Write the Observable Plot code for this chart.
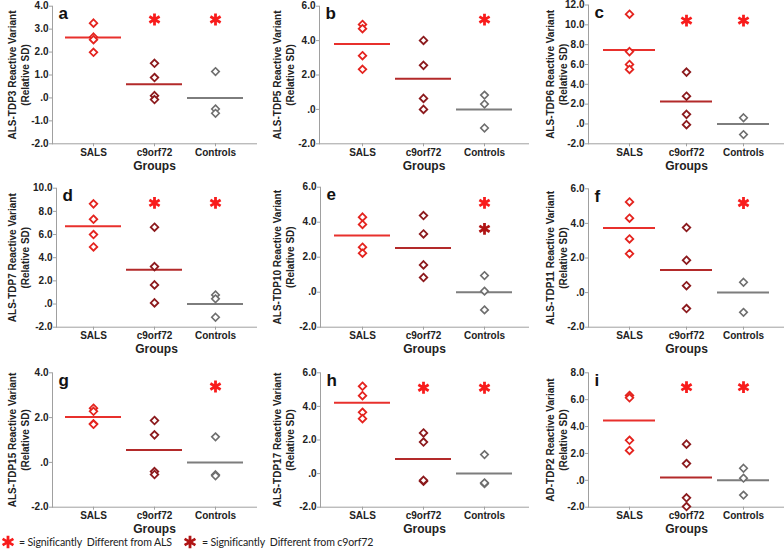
<!DOCTYPE html>
<html><head><meta charset="utf-8">
<script src="https://cdn.jsdelivr.net/npm/d3@7"></script>
<script src="https://cdn.jsdelivr.net/npm/@observablehq/plot@0.6"></script>
<style>
body{margin:0;background:#fff;}
#root{position:relative;width:784px;height:558px;overflow:hidden;font-family:"Liberation Sans",Arial,sans-serif;}
.panel{position:absolute;}
.leg{position:absolute;top:533px;height:18px;line-height:18px;font-family:Lato,"Open Sans",sans-serif;font-size:10.6px;letter-spacing:-0.15px;color:#222;white-space:pre;}
.legsym{position:absolute;top:534px;}
</style></head><body><div id="root"></div>
<script>
// ---------- data ----------
const groups = ["SALS", "c9orf72", "Controls"];
const letters = ["a", "b", "c", "d", "e", "f", "g", "h", "i"];
const yLabels = [
  "ALS-TDP3 Reactive Variant", "ALS-TDP5 Reactive Variant", "ALS-TDP6 Reactive Variant",
  "ALS-TDP7 Reactive Variant", "ALS-TDP10 Reactive Variant", "ALS-TDP11 Reactive Variant",
  "ALS-TDP15 Reactive Variant", "ALS-TDP17 Reactive Variant", "AD-TDP2 Reactive Variant"
];
const yLabelSub = "(Relative SD)";
const xLabel = "Groups";
const yMax = [4, 6, 12, 10, 6, 6, 4, 6, 8];
const yTickStep = [1, 2, 2, 2, 2, 2, 2, 2, 2];

const salsValues = [
  [3.26, 2.65, 2.54, 1.99],
  [4.94, 4.69, 3.12, 2.33],
  [11.07, 7.3, 6.0, 5.5],
  [8.65, 7.32, 6.0, 4.93],
  [4.29, 3.87, 2.57, 2.23],
  [5.24, 4.30, 3.10, 2.25],
  [2.42, 2.28, 1.72, 1.70],
  [5.2, 4.64, 3.65, 3.27],
  [6.31, 6.14, 2.98, 2.22]
];
const c9Values = [
  [1.51, 0.89, 0.10, -0.07],
  [4.01, 2.56, 0.64, 0.0],
  [5.23, 2.8, 0.97, -0.07],
  [6.63, 3.23, 1.65, 0.1],
  [4.38, 3.33, 1.56, 0.84],
  [3.76, 1.87, 0.40, -0.92],
  [1.87, 1.23, -0.41, -0.54],
  [2.42, 1.88, -0.46, -0.40],
  [2.69, 1.25, -1.3, -1.95]
];
const ctrlValues = [
  [1.15, -0.48, -0.67],
  [0.83, 0.31, -1.08],
  [0.63, -1.07],
  [0.79, 0.45, -1.14],
  [0.95, 0.06, -1.01],
  [0.60, -1.14],
  [1.14, -0.55, -0.60],
  [1.13, -0.60, -0.55],
  [0.90, 0.16, -1.10]
];
const salsMeans = [2.63, 3.80, 7.47, 6.71, 3.24, 3.74, 2.03, 4.21, 4.45];
const c9Means = [0.60, 1.78, 2.27, 2.95, 2.53, 1.31, 0.55, 0.87, 0.21];
const ctrlMeans = [0, 0, 0, 0, 0, 0, 0, 0, 0];

// asterisks: significantly different from ALS (red) / from c9orf72 (dark red)
const alsStarGroups = [["c9orf72", "Controls"], ["Controls"], ["c9orf72", "Controls"],
  ["c9orf72", "Controls"], ["Controls"], ["Controls"], ["Controls"],
  ["c9orf72", "Controls"], ["c9orf72", "Controls"]];
const alsStarY = [3.42, 5.22, 10.43, 8.73, 5.10, 5.18, 3.39, 5.11, 6.93];
const c9StarGroups = [[], [], [], [], ["Controls"], [], [], [], []];
const c9StarY = [null, null, null, null, 3.62, null, null, null, null];

const legendTexts = ["= Significantly  Different from ALS", "= Significantly  Different from c9orf72"];

// ---------- layout ----------
const colLeft = [0, 260, 520];
const colWidth = [260, 268, 264];
const colRight = [256, 528, 784];
const colCenters = [[93, 155, 216], [362, 423, 485], [628, 687, 744]];
const colLabelX = [18, 283, 556];
const axisXs = [52, 319, 588, 56, 320, 588, 52, 320, 588];
const rowTop = [-10, 160, 330];
const rowHeight = [190, 200, 210];
const rowBottomPx = [143.3, 326.7, 506.7];
const topPx = [5.7, 5.7, 4.5, 187.7, 186.7, 188.3, 372.3, 372.3, 372.3];

const colSALS = "#e4241f", colC9 = "#8c1a1d", colCtrl = "#6e6e6e";
const meanSALS = "#e8302c", meanC9 = "#b32a2a", meanCtrl = "#7d7d7d";
const starRed = "#f81c1c", starDark = "#b01515";
const axisGray = "#a0a0a0";
const fmt = d => d === 0 ? ".0" : d.toFixed(1);

const root = document.getElementById("root");

for (let i = 0; i < 9; i++) {
  const col = i % 3, row = Math.floor(i / 3);
  const left = colLeft[col], width = colWidth[col];
  const top = rowTop[row], height = rowHeight[row];
  const axisX = axisXs[i];
  const c = colCenters[col];
  const step = (c[2] - c[0]) / 2;
  const pi = 0.08;
  const bw = step * (1 - pi);

  const pts = [
    ...salsValues[i].map(v => ({group: "SALS", value: v})),
    ...c9Values[i].map(v => ({group: "c9orf72", value: v})),
    ...ctrlValues[i].map(v => ({group: "Controls", value: v}))
  ];
  const means = [
    {group: "SALS", value: salsMeans[i], color: meanSALS},
    {group: "c9orf72", value: c9Means[i], color: meanC9},
    {group: "Controls", value: ctrlMeans[i], color: meanCtrl}
  ];
  const alsStars = alsStarGroups[i].map(g => ({group: g, value: alsStarY[i]}));
  const c9Stars = c9StarGroups[i].map(g => ({group: g, value: c9StarY[i]}));

  const chart = Plot.plot({
    width, height,
    marginLeft: axisX - left,
    marginRight: width - (colRight[col] - left),
    marginTop: topPx[i] - top,
    marginBottom: height - (rowBottomPx[row] - top),
    style: {background: "transparent", overflow: "visible", fontFamily: "'Liberation Sans', Arial, sans-serif", fontSize: "10px", fontWeight: "bold", color: "#222"},
    x: {type: "band", domain: groups, range: [c[0] - bw / 2 - left, c[2] + bw / 2 - left], paddingInner: pi, paddingOuter: 0},
    y: {domain: [-2, yMax[i]]},
    marks: [
      Plot.frame({anchor: "left", stroke: axisGray}),
      Plot.frame({anchor: "bottom", stroke: axisGray}),
      Plot.axisY({ticks: d3.range(-2, yMax[i] + 0.001, yTickStep[i]), tickFormat: fmt, tickSize: 3, tickPadding: 1, label: null, stroke: axisGray, fill: "#222"}),
      Plot.axisX({tickSize: 3, tickPadding: 2, label: null, stroke: axisGray, fill: "#222"}),
      Plot.tickY(means, {x: "group", y: "value", stroke: d => d.color, strokeWidth: 2}),
      Plot.dot(pts.filter(d => d.group === "SALS"), {x: "group", y: "value", symbol: "diamond2", r: 3.4, stroke: colSALS, fill: "white", strokeWidth: 1.8}),
      Plot.dot(pts.filter(d => d.group === "c9orf72"), {x: "group", y: "value", symbol: "diamond2", r: 3.4, stroke: colC9, fill: "white", strokeWidth: 1.8}),
      Plot.dot(pts.filter(d => d.group === "Controls"), {x: "group", y: "value", symbol: "diamond2", r: 3.4, stroke: colCtrl, fill: "white", strokeWidth: 1.6}),
      Plot.dot(alsStars, {x: "group", y: "value", symbol: "asterisk", r: 5.6, stroke: starRed, strokeWidth: 2.8}),
      Plot.dot(c9Stars, {x: "group", y: "value", symbol: "asterisk", r: 5.6, stroke: starDark, strokeWidth: 2.8}),
      Plot.text([letters[i]], {text: d => d, frameAnchor: "top-left", dx: 6, dy: 1, fontSize: 17, fontWeight: "bold", fill: "#111"}),
      Plot.text([yLabels[i] + "\n" + yLabelSub], {text: d => d, frameAnchor: "left", dx: colLabelX[col] - axisX, rotate: -90, textAnchor: "middle", lineAnchor: "middle", lineHeight: 1.25, fontSize: 10, fontWeight: "bold", fill: "#222"}),
      Plot.text([xLabel], {text: d => d, frameAnchor: "bottom", dy: 22, lineAnchor: "middle", fontSize: 12, fontWeight: "bold", fill: "#222"})
    ]
  });
  const div = document.createElement("div");
  div.className = "panel";
  div.style.left = left + "px";
  div.style.top = top + "px";
  div.style.width = width + "px";
  div.appendChild(chart);
  root.appendChild(div);
}

// ---------- legend ----------
function legendStar(x, color) {
  const svg = d3.create("svg").attr("class", "legsym").attr("width", 16).attr("height", 16)
    .style("left", (x - 8) + "px");
  svg.append("path").attr("transform", "translate(8,8)")
    .attr("d", d3.symbol(d3.symbolAsterisk, 110)())
    .attr("stroke", color).attr("stroke-width", 2.8).attr("fill", "none");
  root.appendChild(svg.node());
}
function legendText(x, txt) {
  const s = document.createElement("div");
  s.className = "leg";
  s.style.left = x + "px";
  s.textContent = txt;
  root.appendChild(s);
}
legendStar(8, starRed); legendText(19, legendTexts[0]);
legendStar(190, starDark); legendText(202, legendTexts[1]);
</script></body></html>
